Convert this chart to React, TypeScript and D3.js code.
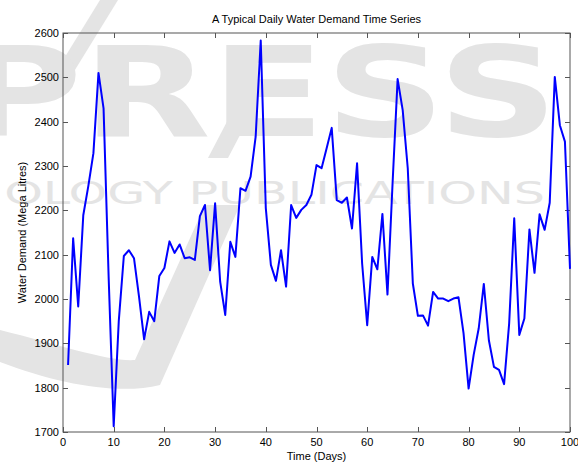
import { useRef, useEffect } from "react";
import * as d3 from "d3";

const WIDTH = 578;
const HEIGHT = 462;
const MARGIN = { top: 33, right: 8, bottom: 30, left: 63 };

const TITLE = "A Typical Daily Water Demand Time Series";
const X_LABEL = "Time (Days)";
const Y_LABEL = "Water Demand (Mega Litres)";

const X_TICKS = [0, 10, 20, 30, 40, 50, 60, 70, 80, 90, 100];
const Y_TICKS = [1700, 1800, 1900, 2000, 2100, 2200, 2300, 2400, 2500, 2600];

// daily demand, days 1..100
const DEMAND = [
  1851, 2137, 1983, 2189, 2255, 2329, 2510, 2430, 2050, 1713,
  1950, 2097, 2110, 2092, 2005, 1909, 1971, 1950, 2052, 2070,
  2130, 2104, 2123, 2092, 2094, 2088, 2187, 2212, 2065, 2216,
  2039, 1964, 2129, 2095, 2250, 2244, 2276, 2366, 2583, 2205,
  2077, 2041, 2110, 2028, 2212, 2183, 2201, 2212, 2235, 2302,
  2295, 2340, 2386, 2223, 2217, 2229, 2159, 2306, 2080, 1941,
  2095, 2067, 2192, 2010, 2260, 2496, 2426, 2295, 2035, 1962,
  1963, 1940, 2016, 2001, 2001, 1995, 2001, 2004, 1923, 1798,
  1874, 1934, 2034, 1907, 1847, 1840, 1808, 1945, 2182, 1919,
  1956, 2157, 2059, 2191, 2156, 2217, 2501, 2392, 2355, 2068,
];
const DAYS = DEMAND.map((_, i) => i + 1);

export default function App() {
  const svgRef = useRef<SVGSVGElement>(null);

  useEffect(() => {
    const svg = d3.select(svgRef.current);
    svg.selectAll("*").remove();

    const x0 = MARGIN.left, x1 = WIDTH - MARGIN.right;
    const y0 = HEIGHT - MARGIN.bottom, y1 = MARGIN.top;

    const x = d3.scaleLinear().domain([0, 100]).range([x0, x1]);
    const y = d3.scaleLinear().domain([1700, 2600]).range([y0, y1]);

    svg.append("rect").attr("width", WIDTH).attr("height", HEIGHT).attr("fill", "#fff");

    // faint publisher watermark behind the plot
    const wm = svg.append("g").attr("fill", "#e4e4e4").attr("font-family", "DejaVu Sans, sans-serif").attr("font-weight", 700);
    wm.append("path")
      .attr("d", "M0,330 C60,345 110,362 135,360 L205,205 L240,205 L160,385 C120,395 60,385 0,362 Z");
    wm.append("path").attr("d", "M100,0 L118,0 L70,78 L52,78 Z");
    wm.append("path").attr("d", "M232,112 L252,112 L228,158 L208,158 Z");
    wm.append("text")
      .attr("x", -40).attr("y", 136)
      .attr("font-size", 124)
      .attr("textLength", 598)
      .attr("lengthAdjust", "spacingAndGlyphs")
      .text("PRESS");
    wm.append("text")
      .attr("x", -165).attr("y", 204)
      .attr("font-size", 32)
      .attr("font-weight", 400)
      .attr("textLength", 710)
      .attr("lengthAdjust", "spacingAndGlyphs")
      .text("TECHNOLOGY PUBLICATIONS");

    // axes box
    svg.append("rect")
      .attr("x", x0).attr("y", y1)
      .attr("width", x1 - x0).attr("height", y0 - y1)
      .attr("fill", "none")
      .attr("stroke", "#555")
      .attr("stroke-width", 1);

    const tickLen = 5;
    const ticks = svg.append("g").attr("stroke", "#555").attr("stroke-width", 1);
    X_TICKS.forEach((t) => {
      const px = Math.round(x(t)) + 0.5;
      ticks.append("line").attr("x1", px).attr("x2", px).attr("y1", y0).attr("y2", y0 - tickLen);
      ticks.append("line").attr("x1", px).attr("x2", px).attr("y1", y1).attr("y2", y1 + tickLen);
    });
    Y_TICKS.forEach((t) => {
      const py = Math.round(y(t)) + 0.5;
      ticks.append("line").attr("x1", x0).attr("x2", x0 + tickLen).attr("y1", py).attr("y2", py);
      ticks.append("line").attr("x1", x1).attr("x2", x1 - tickLen).attr("y1", py).attr("y2", py);
    });

    const labels = svg.append("g")
      .attr("font-family", "Liberation Sans, Arial, sans-serif")
      .attr("font-size", 11)
      .attr("fill", "#000");

    X_TICKS.forEach((t) => {
      labels.append("text")
        .attr("x", x(t)).attr("y", y0 + 14)
        .attr("text-anchor", "middle")
        .text(t);
    });
    Y_TICKS.forEach((t) => {
      labels.append("text")
        .attr("x", x0 - 4).attr("y", y(t) + 4)
        .attr("text-anchor", "end")
        .text(t);
    });

    // the series
    const line = d3.line<number>()
      .x((_, i) => x(DAYS[i]))
      .y((d) => y(d));

    svg.append("path")
      .datum(DEMAND)
      .attr("d", line)
      .attr("fill", "none")
      .attr("stroke", "#0000ff")
      .attr("stroke-width", 2)
      .attr("stroke-linejoin", "round");

    labels.append("text")
      .attr("x", (x0 + x1) / 2).attr("y", 23)
      .attr("text-anchor", "middle")
      .text(TITLE);
    labels.append("text")
      .attr("x", (x0 + x1) / 2).attr("y", y0 + 28)
      .attr("text-anchor", "middle")
      .text(X_LABEL);
    labels.append("text")
      .attr("transform", `translate(26,${(y0 + y1) / 2}) rotate(-90)`)
      .attr("text-anchor", "middle")
      .text(Y_LABEL);
  }, []);

  return (
    <svg
      ref={svgRef}
      width={WIDTH}
      height={HEIGHT}
      style={{ position: "absolute", left: 0, top: 0, display: "block" }}
    />
  );
}
